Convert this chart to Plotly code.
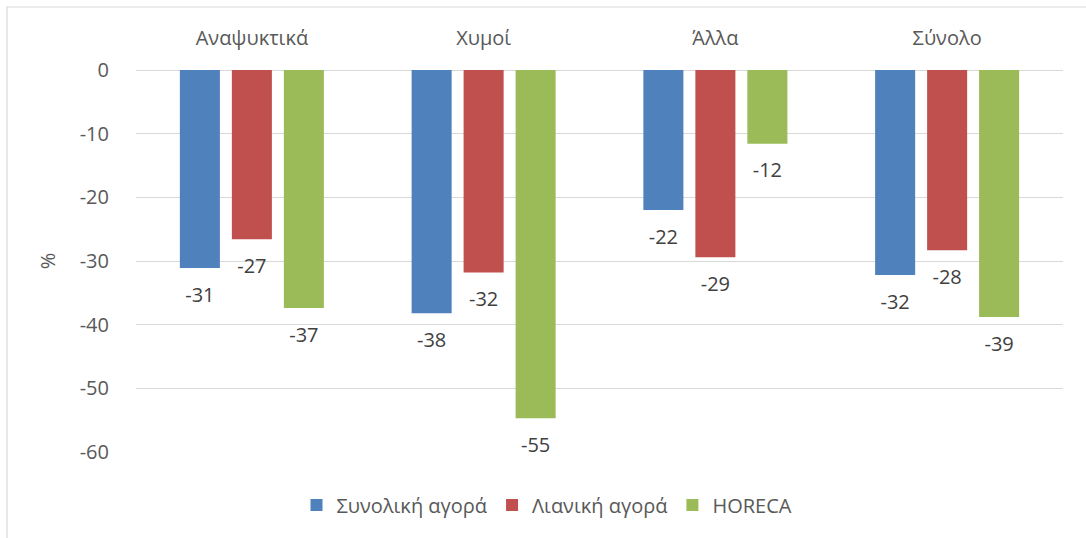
import plotly.graph_objects as go

categories = ["Αναψυκτικά", "Χυμοί", "Άλλα", "Σύνολο"]
series_names = ["Συνολική αγορά", "Λιανική αγορά", "HORECA"]
total_market = [-31.1, -38.2, -22.0, -32.2]
retail_market = [-26.6, -31.8, -29.4, -28.3]
horeca = [-37.4, -54.7, -11.6, -38.8]
y_ticks = [0, -10, -20, -30, -40, -50, -60]
y_tick_labels = ["0", "-10", "-20", "-30", "-40", "-50", "-60"]

colors = ["#4F81BD", "#C0504D", "#9BBB59"]
series_values = [total_market, retail_market, horeca]
FONT = "Open Sans, Noto Sans, sans-serif"
TXT = "#595959"
FS = 20

fig = go.Figure()
for i, (name, vals) in enumerate(zip(series_names, series_values)):
    fig.add_trace(go.Bar(
        x=categories, y=vals, name=name, marker_color=colors[i],
        offsetgroup=str(i), marker_line_width=0,
    ))
for i, vals in enumerate(series_values):
    fig.add_trace(go.Scatter(
        x=categories, y=vals, mode="markers+text",
        text=[f"{v:.0f}" for v in vals], textposition="bottom center",
        textfont=dict(size=FS, color="#404040", family=FONT),
        marker=dict(size=28, opacity=0), offsetgroup=str(i),
        showlegend=False, hoverinfo="skip", cliponaxis=False,
    ))

L, R, T, B = 136, 23, 70, 86
W, H = 1086, 538
pw, ph = W - L - R, H - T - B

def px_x(p):
    return (p - L) / pw

def px_y(p):
    return (H - B - p) / ph

fig.add_shape(type="rect", xref="paper", yref="paper",
              x0=px_x(7), x1=px_x(1120), y0=px_y(7), y1=px_y(580),
              line=dict(color="#d9d9d9", width=1.2), fillcolor="rgba(0,0,0,0)", layer="below")

fig.update_layout(
    width=W, height=H,
    margin=dict(l=L, r=R, t=T, b=B, autoexpand=False),
    paper_bgcolor="white", plot_bgcolor="white",
    barmode="group", scattermode="group",
    bargap=0.327, bargroupgap=0.23,
    font=dict(family=FONT, color=TXT, size=FS),
    legend=dict(orientation="h", x=px_x(547), xanchor="center", y=px_y(505), yanchor="middle",
                font=dict(size=FS, color=TXT), itemsizing="constant", tracegroupgap=0,
                itemwidth=30),
    showlegend=True,
)
fig.update_xaxes(side="top", showgrid=False, showline=False, zeroline=False, automargin=False,
                 ticks="outside", ticklen=16, tickcolor="rgba(0,0,0,0)",
                 tickfont=dict(size=FS, color=TXT))
fig.update_yaxes(range=[-60, 0], tickvals=y_ticks, ticktext=y_tick_labels, automargin=False,
                 showgrid=True, gridcolor="#d9d9d9",
                 gridwidth=1.3, zeroline=True, zerolinecolor="#d9d9d9", zerolinewidth=1.3,
                 ticks="outside", ticklen=22, tickcolor="rgba(0,0,0,0)",
                 tickfont=dict(size=FS, color=TXT),
                 title=dict(text="%", font=dict(size=FS, color=TXT), standoff=18))

fig.write_html("out.html", config={"displayModeBar": False},
               post_script="document.body.style.margin='0';document.body.style.overflow='hidden';")
